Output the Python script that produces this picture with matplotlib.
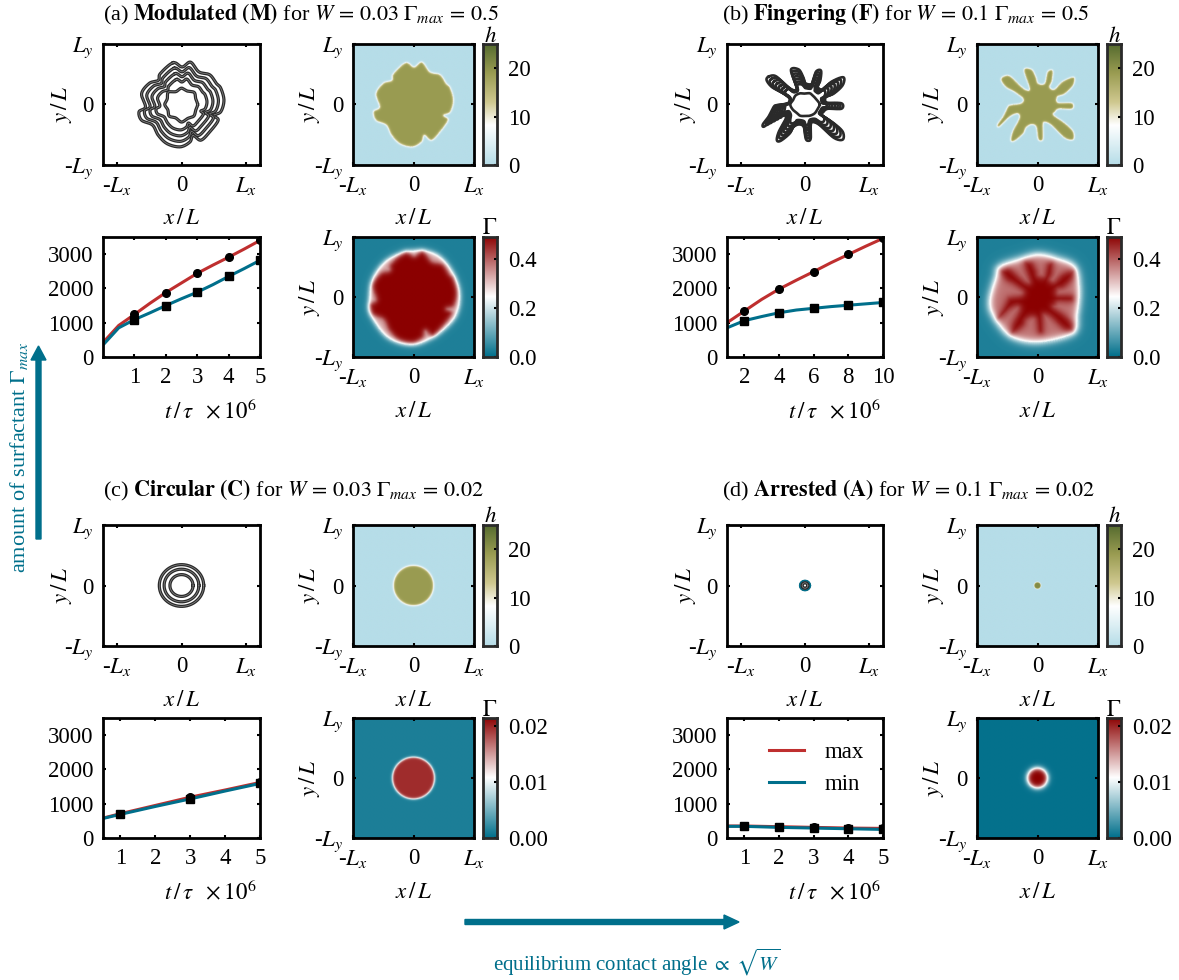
import matplotlib
matplotlib.use('Agg')
import matplotlib.pyplot as plt
import matplotlib.patches as mpatches
import numpy as np
from matplotlib.colors import LinearSegmentedColormap
from matplotlib.path import Path
from matplotlib.transforms import Affine2D

plt.rcParams.update({'font.family': ['Liberation Serif', 'DejaVu Serif'], 'mathtext.fontset': 'stix'})

W, H = 1179, 980
teal = '#006f8b'
red = '#bf2f2f'
fs = 16.5

# time series
t_a = [0, 0.5, 1, 1.5, 2, 2.5, 3, 3.5, 4, 4.5, 5]
max_a = [420, 920, 1240, 1570, 1880, 2160, 2440, 2680, 2910, 3150, 3400]
min_a = [350, 850, 1090, 1290, 1500, 1700, 1890, 2110, 2350, 2580, 2820]
mark_a = [1, 2, 3, 4, 5]

t_b = [1, 2, 3, 4, 5, 6, 7, 8, 9, 10]
max_b = [1000, 1340, 1680, 1980, 2240, 2490, 2750, 2990, 3230, 3460]
min_b = [850, 1060, 1180, 1290, 1370, 1420, 1470, 1510, 1550, 1590]
mark_b = [2, 4, 6, 8, 10]

t_c = [0.5, 1, 2, 3, 4, 5]
max_c = [580, 710, 950, 1190, 1400, 1620]
min_c = [570, 690, 920, 1140, 1370, 1590]
mark_c = [1, 3, 5]

t_d = [0.5, 1, 2, 3, 4, 5]
max_d = [350, 350, 330, 310, 290, 280]
min_d = [340, 340, 310, 290, 270, 250]
mark_d = [1, 2, 3, 4, 5]

# droplet outlines in units of L
drop_a = [(-.13, .69), (.01, .62), (.14, .70), (.27, .54), (.44, .49), (.54, .35), (.61, .27), (.66, .07),
          (.61, -.12), (.50, -.18), (.57, -.26), (.44, -.45), (.30, -.59), (.18, -.51), (.13, -.62), (-.02, -.70),
          (-.22, -.65), (-.36, -.51), (-.45, -.34), (-.62, -.26), (-.66, -.12), (-.56, -.04), (-.62, .18),
          (-.50, .35), (-.36, .40), (-.33, .51)]
drop_b = [(-.57, .46), (-.46, .47), (-.30, .32), (-.19, .24), (-.13, .27), (-.22, .57), (-.10, .58), (-.03, .46),
          (.01, .35), (.12, .35), (.17, .54), (.25, .56), (.24, .40), (.20, .29), (.28, .25), (.42, .38), (.60, .45),
          (.59, .32), (.45, .18), (.33, .13), (.34, .03), (.57, .02), (.57, -.07), (.36, -.07), (.29, -.12), (.27, -.18),
          (.45, -.31), (.59, -.45), (.59, -.58), (.45, -.55), (.23, -.34), (.12, -.29), (.09, -.34), (.09, -.56),
          (.05, -.60), (.01, -.56), (-.02, -.37), (-.10, -.33), (-.19, -.38), (-.24, -.48), (-.38, -.60), (-.44, -.59),
          (-.41, -.45), (-.30, -.23), (-.33, -.15), (-.46, -.20), (-.63, -.36), (-.66, -.33), (-.57, -.20), (-.49, -.04),
          (-.44, -.01), (-.27, .02), (-.24, .10), (-.38, .21), (-.52, .29), (-.60, .40)]
front_a = [(0, .78), (.38, .72), (.64, .44), (.77, .06), (.70, -.33), (.38, -.64), (0, -.80), (-.42, -.69),
           (-.70, -.33), (-.74, -.06), (-.67, .33), (-.42, .64)]
front_b = [(-.62, .52), (-.27, .65), (.01, .72), (.30, .66), (.61, .52), (.70, .17), (.67, -.28), (.58, -.61),
           (.01, -.76), (-.45, -.66), (-.73, -.33), (-.80, -.06), (-.70, .33)]

# inner rings, radius every 22.5 deg
ring_a = [.25, .24, .28, .24, .27, .23, .29, .24, .26, .23, .27, .24, .29, .25, .27, .24]
ring_b = [.23, .20, .19, .20, .18, .20, .21, .20, .23, .21, .19, .20, .19, .20, .21, .21]
levels_a = [1, .87, .74, .60]
levels_b = [1, .88, .76, .64, .52, .40, .28]
base_b = 0.24
circles_c = [.345, .27, .18]
circles_d = [.065, .045]

# colour bar ranges and ticks
h_top = 25
h_ticks = [0, 10, 20]
gam_top_big = 0.49
gam_ticks_big = [0.0, 0.2, 0.4]
gam_labels_big = ['0.0', '0.2', '0.4']
gam_top_small = 0.0214
gam_ticks_small = [0.0, 0.01, 0.02]
gam_labels_small = ['0.00', '0.01', '0.02']

titles = [r'(a) $\mathbf{Modulated\ (M)}$ for $W\,=\,0.03\ \Gamma_{max}\,=\,0.5$',
          r'(b) $\mathbf{Fingering\ (F)}$ for $W\,=\,0.1\ \Gamma_{max}\,=\,0.5$',
          r'(c) $\mathbf{Circular\ (C)}$ for $W\,=\,0.03\ \Gamma_{max}\,=\,0.02$',
          r'(d) $\mathbf{Arrested\ (A)}$ for $W\,=\,0.1\ \Gamma_{max}\,=\,0.02$']

cmap_h = LinearSegmentedColormap.from_list('h', [(0, '#b6dde8'), (.33, '#ffffff'), (.52, '#cfc88f'),
                                                 (.76, '#9a9c52'), (1, '#556b2f')])
cmap_g = LinearSegmentedColormap.from_list('g', [(0, teal), (.5, '#ffffff'), (1, '#8b0000')])

fig = plt.figure(figsize=(W / 100, H / 100), dpi=100)
px = Affine2D().scale(1, -1).translate(0, H)


def add_ax(x0, y0, x1, y1):
    return fig.add_axes([x0 / W, 1 - y1 / H, (x1 - x0) / W, (y1 - y0) / H])


def put(x, y, s, **kw):
    kw.setdefault('ha', 'center')
    kw.setdefault('va', 'center')
    kw.setdefault('fontsize', fs)
    fig.text(x / W, 1 - y / H, s, **kw)


def smooth(points, n=16):
    # closed Catmull-Rom through the read points
    p1 = np.array(points, dtype=float)
    p0, p2, p3 = np.roll(p1, 1, axis=0), np.roll(p1, -1, axis=0), np.roll(p1, -2, axis=0)
    u = (np.arange(n) / n)[:, None, None]
    c = 0.5 * (2 * p1 + (p2 - p0) * u + (2 * p0 - 5 * p1 + 4 * p2 - p3) * u ** 2 + (3 * p1 - p0 - 3 * p2 + p3) * u ** 3)
    return c.transpose(1, 0, 2).reshape(-1, 2)


def from_radii(radii):
    ang = np.arange(len(radii)) * 2 * np.pi / len(radii)
    r = np.array(radii)
    return np.column_stack([r * np.cos(ang), r * np.sin(ang)])


def circle(r):
    return from_radii([r] * 720)


def pull_to_base(points, s, base):
    # tips shrink toward the base radius, the notches stay near it
    pts = np.array(points, dtype=float)
    r = np.hypot(pts[:, 0], pts[:, 1])
    return pts * ((base + (r - base) * s) / r)[:, None]


def signed_dist(outline, n=220):
    g = np.linspace(-1, 1, n)
    xx, yy = np.meshgrid(g, g)
    d = np.zeros_like(xx)
    for i in range(n):
        d[i] = np.min(np.hypot(xx[i][:, None] - outline[:, 0], yy[i][:, None] - outline[:, 1]), axis=1)
    inside = Path(outline).contains_points(np.column_stack([xx.ravel(), yy.ravel()])).reshape(xx.shape)
    return np.where(inside, d, -d)


def step(outline, w):
    return 0.5 * (1 + np.tanh(signed_dist(outline) / w))


def style(ax, spine='black'):
    for s in ax.spines.values():
        s.set_linewidth(2)
        s.set_color(spine)
    ax.tick_params(direction='in', length=2.5, width=1.5, top=True, right=True, labelsize=fs, pad=7)


def space_labels(ax, xlim):
    ax.set_xlim(*xlim)
    ax.set_ylim(-1, 1)
    ax.set_xticks([-1, 0, 1], ['-$L_x$', '0', '$L_x$'])
    ax.set_yticks([-1, 0, 1], ['-$L_y$', '0', '$L_y$'])
    style(ax)


def colorbar(x0, y0, x1, y1, cmap, top, ticks, labels, name):
    cax = add_ax(x0, y0, x1, y1)
    cax.imshow(np.linspace(0, 1, 256)[:, None], origin='lower', aspect='auto', cmap=cmap, extent=[0, 1, 0, top])
    cax.set_xticks([])
    cax.set_yticks(ticks, labels)
    cax.yaxis.tick_right()
    style(cax, '#2a2a2a')
    cax.tick_params(top=False, left=False, right=True, pad=8)
    put((x0 + x1) / 2, y0 - 8, name, fontsize=16.5)


def time_panel(box, t, ymax, ymin, marks, xlim, xticks):
    ax = add_ax(*box)
    ax.plot(t, ymax, color=red, lw=2.2, label='max')
    ax.plot(t, ymin, color=teal, lw=2.2, label='min')
    ax.plot(marks, np.interp(marks, t, ymax), 'o', color='black', ms=5.5)
    ax.plot(marks, np.interp(marks, t, ymin), 's', color='black', ms=6)
    ax.set_xlim(*xlim)
    ax.set_ylim(0, 3500)
    ax.set_xticks(xticks)
    ax.set_yticks([0, 1000, 2000, 3000])
    style(ax)
    put(box[0] + 107, box[3] + 54, r'$t\,/\,\tau\ \ \times 10^6$')
    return ax


# contour, h and gamma maps for each droplet
panels = [
    dict(cont=(103, 260), heat=(353, 474), cbar=(483, 497), top=44, title_x=103, title_y=14),
    dict(cont=(727, 883), heat=(977, 1098), cbar=(1107, 1121), top=44, title_x=722, title_y=14),
    dict(cont=(103, 260), heat=(353, 474), cbar=(483, 497), top=525, title_x=103, title_y=490),
    dict(cont=(727, 883), heat=(977, 1098), cbar=(1107, 1121), top=525, title_x=722, title_y=490),
]

outline_a = smooth(drop_a)
outline_b = smooth(drop_b)

shapes_a = [outline_a * s for s in levels_a] + [smooth(from_radii(ring_a))]
shapes_b = [pull_to_base(outline_b, s, base_b) for s in levels_b] + [smooth(from_radii(ring_b))]
shapes_c = [circle(r) for r in circles_c]
shapes_d = [circle(r) for r in circles_d]
contours = [shapes_a, shapes_b, shapes_c, shapes_d]
widths = [2.3, 1.9, 2.3, 2.4]

h_fields = [19 * step(outline_a, .02),
            19 * step(outline_b, .017),
            19 * step(circle(.33), .02),
            21 * step(circle(.055), .008)]
gam_fields = [.03 + .30 * step(smooth(front_a), .05) + .16 * step(outline_a * 1.1, .05),
              .03 + .35 * step(smooth(front_b), .08) + .11 * step(outline_b, .07),
              .0012 + .0183 * step(circle(.35), .022),
              .0002 + .0212 * step(circle(.165), .05)]

time_args = [(t_a, max_a, min_a, mark_a, (0, 5), [1, 2, 3, 4, 5]),
             (t_b, max_b, min_b, mark_b, (1, 10), [2, 4, 6, 8, 10]),
             (t_c, max_c, min_c, mark_c, (0.5, 5), [1, 2, 3, 4, 5]),
             (t_d, max_d, min_d, mark_d, (0.5, 5), [1, 2, 3, 4, 5])]

for i, p in enumerate(panels):
    top = p['top']
    low = top + 193
    put(p['title_x'], p['title_y'], titles[i], ha='left', fontsize=15.9)

    ax = add_ax(p['cont'][0], top, p['cont'][1], top + 121)
    for s in contours[i]:
        closed = np.vstack([s, s[:1]])
        ax.plot(closed[:, 0], closed[:, 1], color='#2a2a2a', lw=widths[i], solid_joinstyle='round')
        if i != 1:
            ax.plot(closed[:, 0], closed[:, 1], color='#8a8a8a', lw=0.5)
    if i == 3:
        edge = circle(.085)
        ax.plot(edge[:, 0], edge[:, 1], color=teal, lw=1)
    space_labels(ax, (-1.22, 1.22))

    ax = add_ax(p['heat'][0], top, p['heat'][1], top + 121)
    ax.imshow(h_fields[i], origin='lower', extent=[-1, 1, -1, 1], cmap=cmap_h, vmin=0, vmax=h_top,
              aspect='auto', interpolation='bilinear')
    space_labels(ax, (-1, 1))
    colorbar(p['cbar'][0], top, p['cbar'][1], top + 121, cmap_h, h_top, h_ticks, [str(v) for v in h_ticks], '$h$')

    ax = time_panel((p['cont'][0], low, p['cont'][1], low + 120), *time_args[i])
    if i == 3:
        ax.legend(loc='upper left', bbox_to_anchor=(0.14, 0.97), frameon=False, fontsize=fs, handlelength=1.5,
                  handletextpad=0.9, labelspacing=0.45)

    ax = add_ax(p['heat'][0], low, p['heat'][1], low + 120)
    gtop = gam_top_big if i < 2 else gam_top_small
    ax.imshow(gam_fields[i], origin='lower', extent=[-1, 1, -1, 1], cmap=cmap_g, vmin=0, vmax=gtop,
              aspect='auto', interpolation='bilinear')
    space_labels(ax, (-1, 1))
    if i < 2:
        colorbar(p['cbar'][0], low, p['cbar'][1], low + 120, cmap_g, gtop, gam_ticks_big, gam_labels_big, r'$\Gamma$')
    else:
        colorbar(p['cbar'][0], low, p['cbar'][1], low + 120, cmap_g, gtop, gam_ticks_small, gam_labels_small, r'$\Gamma$')

    for x, y0 in [(p['cont'][0] - 41, top), (p['heat'][0] - 43, top), (p['heat'][0] - 43, low)]:
        put(x, y0 + 60, r'$y\,/\,L$', rotation=90)
    for xa, ya in [((p['cont'][0] + p['cont'][1]) / 2, top + 175), ((p['heat'][0] + p['heat'][1]) / 2, top + 175),
                   ((p['heat'][0] + p['heat'][1]) / 2, low + 174)]:
        put(xa, ya, r'$x\,/\,L$')

# direction arrows and their captions
fig.add_artist(mpatches.FancyArrow(38.5, 539, 0, -193, width=5, head_width=15, head_length=14,
                                   length_includes_head=True, color=teal, transform=px))
fig.add_artist(mpatches.FancyArrow(465, 922, 274, 0, width=5, head_width=14, head_length=15,
                                   length_includes_head=True, color=teal, transform=px))
put(19, 457, r'amount of surfactant $\Gamma_{max}$', rotation=90, color=teal, fontsize=16)
put(637, 962, r'equilibrium contact angle $\propto\ \sqrt{W}$', color=teal, fontsize=15)

fig.savefig('out.png', dpi=100)
